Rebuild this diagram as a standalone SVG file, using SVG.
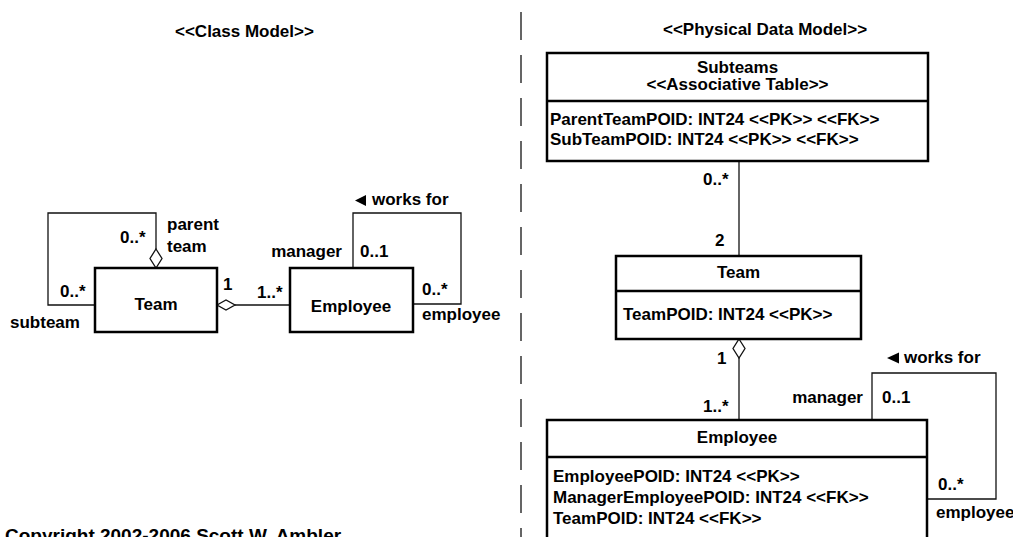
<svg xmlns="http://www.w3.org/2000/svg" width="1013" height="537" viewBox="0 0 1013 537">
  <style>
    text { font-family: "Liberation Sans", Arial, sans-serif; font-weight: bold; font-size: 17px; fill: #000; }
    .mid { text-anchor: middle; }
    .end { text-anchor: end; }
    .box { fill: #fff; stroke: #000; stroke-width: 2.5; }
    .sep { stroke: #000; stroke-width: 2.5; }
    .conn { fill: none; stroke: #111; stroke-width: 1.3; }
    .diamond { fill: #fff; stroke: #111; stroke-width: 1.3; }
    .arrow { fill: #000; }
    .divider { stroke: #333; stroke-width: 1.5; stroke-dasharray: 28 15; }
  </style>

  <!-- section headings and divider -->
  <text x="175" y="37">&lt;&lt;Class Model&gt;&gt;</text>
  <text x="663" y="35">&lt;&lt;Physical Data Model&gt;&gt;</text>
  <line class="divider" x1="521" y1="12" x2="521" y2="537"/>

  <!-- connectors -->
  <g id="connectors">
    <!-- class model: team aggregation of subteams -->
    <path class="conn" d="M95,305 H48 V213 H156 V249"/>
    <polygon class="diamond" points="156,249 162,258.5 156,268 150,258.5"/>
    <!-- class model: team aggregates employees -->
    <path class="conn" d="M235,305 H290"/>
    <polygon class="diamond" points="217,305 226,300 235,305 226,310"/>
    <!-- class model: works for -->
    <path class="conn" d="M353,268 V213 H461 V304 H413"/>

    <!-- data model: subteams to team -->
    <path class="conn" d="M739,161 V256"/>
    <!-- data model: team aggregates employees -->
    <path class="conn" d="M739,358 V420"/>
    <polygon class="diamond" points="739,339 745,348.5 739,358 733,348.5"/>
    <!-- data model: works for -->
    <path class="conn" d="M872,420 V373 H996 V499 H927"/>
  </g>

  <!-- class model labels -->
  <g id="class-labels">
    <text x="120" y="243">0..*</text>
    <text x="167" y="230">parent</text>
    <text x="167" y="252">team</text>
    <text x="60" y="297">0..*</text>
    <text x="10" y="328">subteam</text>
    <text x="223" y="290">1</text>
    <text x="257" y="298">1..*</text>
    <polygon class="arrow" points="355,200.5 366,195 366,206"/>
    <text x="372" y="205">works for</text>
    <text class="end" x="342" y="257">manager</text>
    <text x="360" y="257">0..1</text>
    <text x="422" y="295">0..*</text>
    <text x="422" y="320">employee</text>
  </g>

  <!-- class model nodes -->
  <g id="class-team">
    <rect class="box" x="95" y="268" width="122" height="64"/>
    <text class="mid" x="156" y="310">Team</text>
  </g>
  <g id="class-employee">
    <rect class="box" x="290" y="268" width="123" height="64"/>
    <text class="mid" x="351" y="312">Employee</text>
  </g>

  <!-- data model labels -->
  <g id="table-labels">
    <text x="703" y="185">0..*</text>
    <text x="715" y="246">2</text>
    <text x="717" y="364">1</text>
    <text x="703" y="412">1..*</text>
    <polygon class="arrow" points="887,358 899,352.5 899,363.5"/>
    <text x="904" y="363">works for</text>
    <text class="end" x="863" y="403">manager</text>
    <text x="882" y="403">0..1</text>
    <text x="938" y="490">0..*</text>
    <text x="936" y="518">employee</text>
  </g>

  <!-- data model tables -->
  <g id="table-subteams">
    <rect class="box" x="547" y="53" width="381" height="108"/>
    <line class="sep" x1="547" y1="101" x2="928" y2="101"/>
    <text class="mid" x="737.5" y="73">Subteams</text>
    <text class="mid" x="737.5" y="90">&lt;&lt;Associative Table&gt;&gt;</text>
    <text x="550" y="125">ParentTeamPOID: INT24 &lt;&lt;PK&gt;&gt; &lt;&lt;FK&gt;&gt;</text>
    <text x="550" y="145">SubTeamPOID: INT24 &lt;&lt;PK&gt;&gt; &lt;&lt;FK&gt;&gt;</text>
  </g>
  <g id="table-team">
    <rect class="box" x="616" y="256" width="245" height="83"/>
    <line class="sep" x1="616" y1="291" x2="861" y2="291"/>
    <text class="mid" x="738.5" y="278">Team</text>
    <text x="623" y="320">TeamPOID: INT24 &lt;&lt;PK&gt;&gt;</text>
  </g>
  <g id="table-employee">
    <rect class="box" x="547" y="420" width="380" height="140"/>
    <line class="sep" x1="547" y1="457" x2="927" y2="457"/>
    <text class="mid" x="737" y="443">Employee</text>
    <text x="553" y="482">EmployeePOID: INT24 &lt;&lt;PK&gt;&gt;</text>
    <text x="553" y="503">ManagerEmployeePOID: INT24 &lt;&lt;FK&gt;&gt;</text>
    <text x="553" y="524">TeamPOID: INT24 &lt;&lt;FK&gt;&gt;</text>
  </g>

  <!-- copyright notice -->
  <text x="5" y="542" style="font-size:19px">Copyright 2002-2006 Scott W. Ambler</text>
</svg>
